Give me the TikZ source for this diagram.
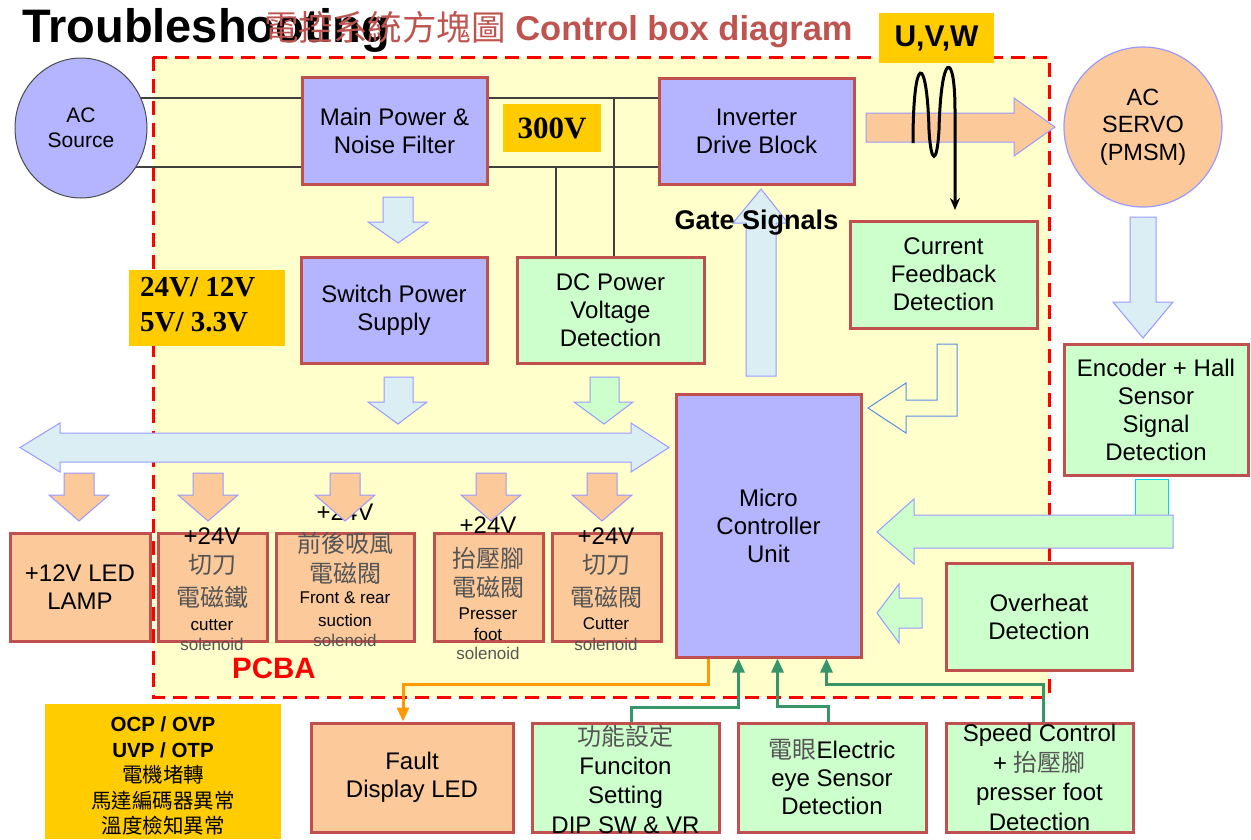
\documentclass[tikz,border=0pt]{standalone}
\usepackage{fontspec}
\setmainfont{Liberation Sans}
\newfontfamily\cjk{Noto Sans CJK TC}
\newfontfamily\tms{Liberation Serif}
\usetikzlibrary{arrows.meta,calc,shapes.geometric}
\pgfdeclarelayer{back}
\pgfdeclarelayer{mid}
\pgfsetlayers{back,mid,main}

\definecolor{lav}{RGB}{180,180,255}
\definecolor{boxred}{RGB}{192,80,77}
\definecolor{lgreen}{RGB}{204,255,204}
\definecolor{peach}{RGB}{251,201,154}
\definecolor{pcbay}{RGB}{255,255,204}
\definecolor{gold}{RGB}{255,204,0}
\definecolor{lblue}{RGB}{218,238,243}
\definecolor{arrowedge}{RGB}{153,153,255}
\definecolor{titlered}{RGB}{190,84,80}
\definecolor{cjkgray}{RGB}{85,85,85}
\definecolor{wiregreen}{RGB}{55,150,105}
\definecolor{wireorange}{RGB}{255,153,0}
\definecolor{lblueedge}{RGB}{90,140,230}
\definecolor{cyanedge}{RGB}{0,215,230}

\tikzset{
  box/.style={draw=boxred, line width=3pt, inner sep=0pt, align=center,
    font=\fontsize{24}{28}\selectfont},
  lavbox/.style={box, fill=lav},
  grbox/.style={box, fill=lgreen},
  pchbox/.style={box, fill=peach},
  txt/.style={inner sep=0pt, align=center, font=\fontsize{24}{28}\selectfont},
  lbl/.style={inner sep=0pt, font=\fontsize{24}{24}\selectfont},
  lblc/.style={inner sep=0pt, text=cjkgray, font=\cjk\fontsize{24}{24}\selectfont},
  lbls/.style={inner sep=0pt, font=\fontsize{17}{17}\selectfont},
  bluearr/.style={draw=arrowedge, line width=1pt, fill=lblue},
  greenarr/.style={draw=arrowedge, line width=1pt, fill=lgreen},
  peacharr/.style={draw=arrowedge, line width=1pt, fill=peach},
  wire/.style={draw=black!75, line width=1.3pt},
  gwire/.style={draw=wiregreen, line width=3pt, -{Triangle[width=12pt,length=14pt]}},
  owire/.style={draw=wireorange, line width=3pt, -{Triangle[width=12pt,length=14pt]}},
  pcbframe/.style={draw=red, line width=3pt, dash pattern=on 14pt off 8pt, fill=pcbay},
}

\begin{document}
\begin{tikzpicture}[x=1pt,y=-1pt]
\useasboundingbox (0,0) rectangle (1251,839);

% PCBA frame
\begin{pgfonlayer}{back}
\draw[pcbframe] (153,57) rectangle (1049,697);
\end{pgfonlayer}

% titles
\node[anchor=base west, inner sep=0, font=\fontsize{47}{47}\selectfont\bfseries] (title) at (22,42) {Troubleshooting};
\node[anchor=base west, inner sep=0, text=titlered, font=\fontsize{34.5}{34.5}\selectfont\bfseries] (subtitle) at (264,40) {{\cjk\mdseries 電控系統方塊圖} Control box diagram};

% sources / motor
\node[ellipse, draw=black!70, line width=1pt, fill=lav, minimum width=132, minimum height=140, inner sep=0, align=center, font=\fontsize{21}{25}\selectfont] (acsrc) at (81,128) {AC\\Source};
\node[ellipse, draw=arrowedge, line width=1.2pt, fill=peach, minimum width=158, minimum height=160, inner sep=0, align=center, font=\fontsize{23.5}{27.5}\selectfont] (servo) at (1143,127) {AC\\SERVO\\(PMSM)};

% boxes
\node[lavbox, minimum width=185, minimum height=107] (mainpow) at (394.5,130.5) {Main Power \&\\Noise Filter};
\node[lavbox, minimum width=195, minimum height=106] (inverter) at (756.5,131) {Inverter\\Drive Block};
\node[lavbox, minimum width=186, minimum height=106] (switch) at (394,310) {Switch Power\\Supply};
\node[grbox, minimum width=187, minimum height=106] (dcpow) at (610.5,310) {DC Power\\Voltage\\Detection};
\node[grbox, minimum width=187, minimum height=107] (curfb) at (943.5,274.5) {Current\\Feedback\\Detection};
\node[grbox, minimum width=184, minimum height=131] (encoder) at (1156,409.5) {Encoder + Hall\\Sensor\\Signal\\Detection};
\node[lavbox, minimum width=185, minimum height=263] (mcu) at (768.5,525.5) {Micro\\Controller\\Unit};
\node[grbox, minimum width=186, minimum height=107] (overheat) at (1039,616.5) {Overheat\\Detection};
\node[pchbox, minimum width=140, minimum height=108] (led) at (80,587) {+12V LED\\LAMP};
\node[pchbox, minimum width=109, minimum height=108] (cut1) at (212.5,587) {};
\node[pchbox, minimum width=138, minimum height=108] (front) at (345,587) {};
\node[pchbox, minimum width=109, minimum height=108] (presser) at (488.5,587) {};
\node[pchbox, minimum width=109, minimum height=108] (cut2) at (606.5,587) {};
\node[pchbox, minimum width=202, minimum height=109] (fault) at (412,777.5) {Fault\\Display LED};
\node[grbox, minimum width=187, minimum height=109] (func) at (625.5,777.5) {};
\node[grbox, minimum width=188, minimum height=109] (eye) at (832,777.5) {{\color{cjkgray}\cjk 電眼}Electric\\eye Sensor\\Detection};
\node[grbox, minimum width=187, minimum height=109] (speed) at (1039.5,777.5) {};

\node[txt, font=\fontsize{24}{29.3}\selectfont] (functxt) at (625.5,779) {{\color{cjkgray}\cjk 功能設定}\\Funciton\\Setting\\DIP SW \& VR};
\node[txt, font=\fontsize{24}{29.7}\selectfont] (speedtxt) at (1039.5,777.5) {Speed Control\\+ {\color{cjkgray}\cjk 抬壓腳}\\presser foot\\Detection};

% yellow labels
\node[fill=gold, minimum width=115, minimum height=50, inner sep=0, font=\fontsize{30}{30}\selectfont\bfseries] (uvw) at (936.5,38) {U,V,W};
\node[fill=gold, minimum width=98, minimum height=48, inner sep=0, font=\tms\bfseries\fontsize{31}{31}\selectfont] (v300) at (552,128) {300V};
\node[fill=gold, minimum width=156, minimum height=76, inner sep=0] (volt) at (207,308) {};
\node[anchor=west, inner sep=0, align=left, font=\tms\bfseries\fontsize{29}{35}\selectfont] (volttxt) at (140,305) {24V/ 12V\\5V/ 3.3V};
\node[fill=gold, minimum width=236, minimum height=135, inner sep=0] (ocp) at (163,771.5) {};
\node[txt, font=\fontsize{20.5}{25.5}\selectfont] (ocptxt) at (163,776) {\textbf{OCP / OVP}\\\textbf{UVP / OTP}\\{\cjk 電機堵轉}\\{\cjk 馬達編碼器異常}\\{\cjk 溫度檢知異常}};

% solenoid labels
\node[lbl] (c1a) at (212,536) {+24V};
\node[lblc] (c1b) at (212,565) {切刀};
\node[lblc] (c1c) at (212,597) {電磁鐵};
\node[lbls] (c1d) at (212,625) {cutter};
\node[lbls, text=cjkgray] (c1e) at (212,644) {solenoid};

\node[lbl] (f1a) at (345,512) {+24V};
\node[lblc] (f1b) at (345,543) {前後吸風};
\node[lblc] (f1c) at (345,573) {電磁閥};
\node[lbls] (f1d) at (345,598) {Front \& rear};
\node[lbls] (f1e) at (345,620) {suction};
\node[lbls, text=cjkgray] (f1f) at (345,640) {solenoid};

\node[lbl] (p1a) at (488,525) {+24V};
\node[lblc] (p1b) at (488,558) {抬壓腳};
\node[lblc] (p1c) at (488,587) {電磁閥};
\node[lbls] (p1d) at (488,614) {Presser};
\node[lbls] (p1e) at (488,634) {foot};
\node[lbls, text=cjkgray] (p1f) at (488,653) {solenoid};

\node[lbl] (k1a) at (606,536) {+24V};
\node[lblc] (k1b) at (606,565) {切刀};
\node[lblc] (k1c) at (606,597) {電磁閥};
\node[lbls] (k1d) at (606,624) {Cutter};
\node[lbls, text=cjkgray] (k1e) at (606,644) {solenoid};

\node[inner sep=0, text=red, font=\fontsize{29.5}{29.5}\selectfont\bfseries] (pcba) at (274,668) {PCBA};

% power wires
\coordinate (ytop) at (0,98);
\coordinate (ybot) at (0,167);
\coordinate (vx1) at (556,0);
\coordinate (vx2) at (614,0);
\begin{pgfonlayer}{mid}
\draw[wire] (acsrc.center |- ytop) -- (mainpow.west |- ytop);
\draw[wire] (acsrc.center |- ybot) -- (mainpow.west |- ybot);
\draw[wire] (mainpow.east |- ytop) -- (inverter.west |- ytop);
\draw[wire] (mainpow.east |- ybot) -- (inverter.west |- ybot);
\draw[wire] (vx1 |- ybot) -- (vx1 |- dcpow.north);
\draw[wire] (vx2 |- ytop) -- (vx2 |- dcpow.north);
\end{pgfonlayer}

% block arrows
\draw[bluearr] (383,197) -- (413,197) -- (413,222) -- (428,222) -- (398,243) -- (368,222) -- (383,222) -- cycle;
\draw[bluearr] (384,377) -- (413,377) -- (413,402) -- (427,402) -- (398,424) -- (368,402) -- (384,402) -- cycle;
\draw[greenarr] (590,377) -- (619,377) -- (619,402) -- (633,402) -- (604,424) -- (574,402) -- (590,402) -- cycle;
\draw[bluearr] (20,447.5) -- (60,423) -- (60,433) -- (631,433) -- (631,423) -- (669,447.5) -- (631,472) -- (631,462) -- (60,462) -- (60,472) -- cycle;
\foreach \cx in {79,208,345,491,602}{
  \draw[peacharr] ({\cx-15},473) -- ({\cx+15},473) -- ({\cx+15},495) -- ({\cx+30},495) -- (\cx,521) -- ({\cx-30},495) -- ({\cx-15},495) -- cycle;
}
\draw[bluearr] (746,376) -- (776,376) -- (776,223) -- (788,223) -- (761,189) -- (733,223) -- (746,223) -- cycle;
\node[inner sep=0, font=\fontsize{27}{27}\selectfont\bfseries] (gate) at (756.5,223) {Gate Signals};
\draw[peacharr] (866,113) -- (1014,113) -- (1014,98) -- (1055,127) -- (1014,156) -- (1014,142) -- (866,142) -- cycle;
\draw[bluearr] (1130,217) -- (1156,217) -- (1156,302) -- (1173,302) -- (1143,338) -- (1113,302) -- (1130,302) -- cycle;
\draw[draw=lblueedge, line width=1pt, fill=pcbay] (937,344) -- (957,344) -- (957,416) -- (906,416) -- (906,433) -- (868,408) -- (906,383) -- (906,400) -- (937,400) -- cycle;
\draw[draw=cyanedge, line width=1pt, fill=lgreen] (1135,479) rectangle (1168,515);
\draw[greenarr] (1173,515) -- (914,515) -- (914,499) -- (877,532) -- (914,564) -- (914,548) -- (1173,548) -- cycle;
\draw[greenarr] (922,598) -- (899,598) -- (899,584) -- (877,613) -- (899,643) -- (899,628) -- (922,628) -- cycle;

% U,V,W wave
\draw[line width=3pt, -{Stealth[length=12pt,width=10pt]}] (913,143) .. controls (913,52) and (927,52) .. (929,130) .. controls (931,165) and (937,165) .. (939,130) .. controls (941,50) and (955,50) .. (955,110) -- (955,210);

% MCU connectors
\draw[owire] ($(mcu.south)+(-60,0)$) -- ($(mcu.south)+(-60,26)$) -| ($(fault.north)+(-9,0)$);
\draw[gwire] ($(func.north)+(6,0)$) |- ($(mcu.south)+(-30,49)$) -- ($(mcu.south)+(-30,0)$);
\draw[gwire] ($(eye.north)+(-4,0)$) |- ($(mcu.south)+(9,48)$) -- ($(mcu.south)+(9,0)$);
\draw[gwire] ($(speed.north)+(4,0)$) |- ($(mcu.south)+(58,26)$) -- ($(mcu.south)+(58,0)$);
\end{tikzpicture}
\end{document}
